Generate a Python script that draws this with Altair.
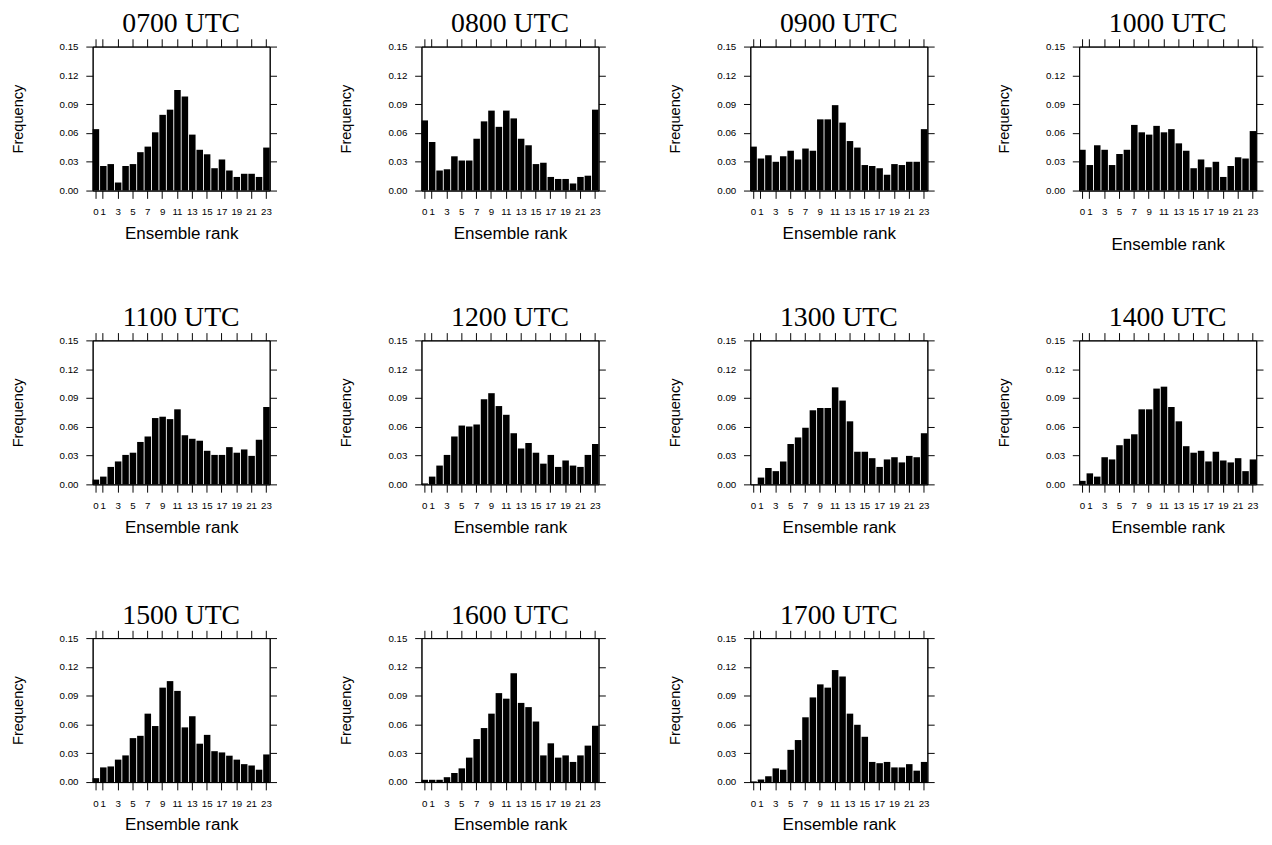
import altair as alt
import pandas as pd

ranks = list(range(24))
tick_vals = [0, 1, 3, 5, 7, 9, 11, 13, 15, 17, 19, 21, 23]
y_vals = [0.0, 0.03, 0.06, 0.09, 0.12, 0.15]

titles = ["0700 UTC", "0800 UTC", "0900 UTC", "1000 UTC",
          "1100 UTC", "1200 UTC", "1300 UTC", "1400 UTC",
          "1500 UTC", "1600 UTC", "1700 UTC"]

f0700 = [0.064, 0.0256, 0.0276, 0.0084, 0.0256, 0.0276, 0.040, 0.0458, 0.0607, 0.0789, 0.0843, 0.1048,
         0.098, 0.0583, 0.0425, 0.0378, 0.0233, 0.0324, 0.0209, 0.0142, 0.0175, 0.0175, 0.0142, 0.0448]
f0800 = [0.0731, 0.0506, 0.0209, 0.0222, 0.0357, 0.0313, 0.0313, 0.054, 0.0721, 0.0833, 0.0664, 0.0833,
         0.0752, 0.054, 0.0472, 0.0276, 0.029, 0.0142, 0.0121, 0.0121, 0.0074, 0.0142, 0.0155, 0.0843]
f0900 = [0.0458, 0.0334, 0.0367, 0.030, 0.0357, 0.0415, 0.0324, 0.0438, 0.0415, 0.0742, 0.0742, 0.089,
         0.0708, 0.0516, 0.0448, 0.0266, 0.0256, 0.0233, 0.0165, 0.0276, 0.0266, 0.030, 0.030, 0.064]
f1000 = [0.0425, 0.0266, 0.0472, 0.0425, 0.0266, 0.0381, 0.0425, 0.0684, 0.0607, 0.0583, 0.0674, 0.0607,
         0.064, 0.0492, 0.0415, 0.0233, 0.0324, 0.0243, 0.030, 0.0142, 0.0256, 0.0347, 0.0334, 0.062]
f1100 = [0.005, 0.0081, 0.0182, 0.0239, 0.0307, 0.033, 0.0442, 0.0499, 0.0691, 0.0705, 0.068, 0.0782,
         0.0512, 0.0475, 0.0455, 0.035, 0.0307, 0.0307, 0.0388, 0.033, 0.0364, 0.0297, 0.0465, 0.0806]
f1200 = [0.001, 0.0081, 0.0196, 0.0307, 0.0499, 0.0613, 0.0603, 0.0624, 0.0887, 0.095, 0.0816, 0.0725,
         0.0533, 0.0374, 0.0431, 0.033, 0.0216, 0.0307, 0.0182, 0.0249, 0.0196, 0.0182, 0.0307, 0.0421]
f1300 = [0.0, 0.0071, 0.0172, 0.0138, 0.0239, 0.0421, 0.0489, 0.059, 0.0772, 0.0796, 0.0796, 0.1011,
         0.0873, 0.0657, 0.034, 0.034, 0.0273, 0.0182, 0.026, 0.0283, 0.0229, 0.0297, 0.0283, 0.0533]
f1400 = [0.0037, 0.0115, 0.0081, 0.0283, 0.026, 0.0408, 0.0475, 0.0522, 0.0782, 0.0782, 0.0998, 0.1018,
         0.0806, 0.0657, 0.0398, 0.033, 0.035, 0.0239, 0.034, 0.0249, 0.0229, 0.0273, 0.0138, 0.026]
f1500 = [0.0041, 0.0153, 0.0163, 0.0234, 0.0278, 0.0458, 0.0482, 0.0713, 0.0584, 0.0984, 0.1052, 0.095,
         0.057, 0.0686, 0.040, 0.0492, 0.0322, 0.0309, 0.0275, 0.0234, 0.0187, 0.0173, 0.0129, 0.0288]
f1600 = [0.0024, 0.0024, 0.0024, 0.0051, 0.0095, 0.0143, 0.0255, 0.0448, 0.0563, 0.0713, 0.0927, 0.0869,
         0.1134, 0.0825, 0.0781, 0.0631, 0.0278, 0.0404, 0.0255, 0.0278, 0.021, 0.0278, 0.038, 0.0587]
f1700 = [0.0007, 0.0027, 0.0061, 0.0143, 0.0129, 0.0336, 0.0438, 0.0675, 0.0882, 0.1018, 0.0984, 0.1167,
         0.11, 0.0713, 0.0597, 0.0472, 0.021, 0.0197, 0.021, 0.0153, 0.0153, 0.0187, 0.0119, 0.021]

series = [f0700, f0800, f0900, f1000, f1100, f1200, f1300, f1400, f1500, f1600, f1700]

SANS = "Liberation Sans"
SERIF = "Liberation Serif"


def panel(title, freqs, xtitle_pad=8):
    df = pd.DataFrame({"rank": ranks, "freq": freqs})
    base = alt.Chart(df)
    xscale = alt.Scale(domain=ranks, paddingInner=0.12, paddingOuter=0)
    yscale = alt.Scale(domain=[0, 0.15], nice=False, zero=True)
    common = dict(grid=False, domain=True, domainColor="black", domainWidth=1,
                  tickColor="black", tickWidth=1, labelFont=SANS, titleFont=SANS,
                  labelColor="black", titleColor="black", titleFontWeight="normal",
                  labelFontSize=10)
    bars = base.mark_bar(color="black").encode(
        x=alt.X("rank:O", scale=xscale, title="Ensemble rank",
                axis=alt.Axis(orient="bottom", values=tick_vals, labelAngle=0,
                              tickSize=8, labelPadding=9, titlePadding=xtitle_pad,
                              titleFontSize=17.5, **common)),
        y=alt.Y("freq:Q", scale=yscale, title="Frequency",
                axis=alt.Axis(orient="left", values=y_vals, format=".2f",
                              tickSize=7, labelPadding=8, titlePadding=35,
                              titleFontSize=15, **common)),
    )
    mirror = base.mark_bar(opacity=0).encode(
        x=alt.X("rank:O", scale=xscale, title=None,
                axis=alt.Axis(orient="top", values=tick_vals, labels=False,
                              tickSize=8, **common)),
        y=alt.Y("freq:Q", scale=yscale, title=None,
                axis=alt.Axis(orient="right", values=y_vals, labels=False,
                              tickSize=7, **common)),
    )
    return alt.layer(bars, mirror).resolve_axis(
        x="independent", y="independent"
    ).properties(
        width=182, height=148,
        title=alt.TitleParams(title, font=SERIF, fontSize=28.5, fontWeight="normal",
                              color="black", offset=-28, baseline="bottom",
                              anchor="middle"),
    )


panels = []
for i, (t, f) in enumerate(zip(titles, series)):
    pad = 20 if i == 3 else 8
    panels.append(panel(t, f, pad))

row1 = alt.hconcat(*panels[0:4], spacing=63)
row2 = alt.hconcat(*panels[4:8], spacing=63)
row3 = alt.hconcat(*panels[8:11], spacing=63)

chart = alt.vconcat(alt.vconcat(row1, row2, spacing=50), row3, spacing=66).properties(
    padding={"left": 2, "top": -11, "right": 0, "bottom": 0},
    background="white",
).configure_view(
    stroke="black", strokeWidth=1
)

chart.save("out.html", embed_options={"renderer": "svg", "actions": False})
